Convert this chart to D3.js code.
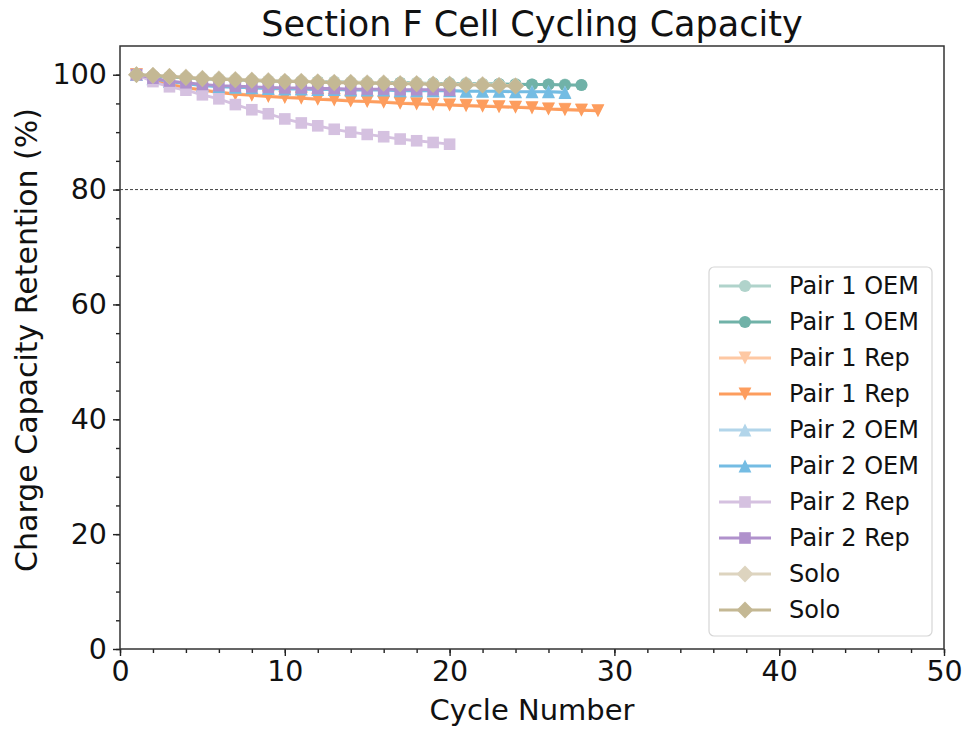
<!DOCTYPE html>
<html>
<head>
<meta charset="utf-8">
<script src="https://cdn.jsdelivr.net/npm/d3@7"></script>
<style>
  body { margin: 0; background: #fff; }
  svg { font-family: 'DejaVu Sans', sans-serif; }
</style>
</head>
<body>
<svg id="viz" width="969" height="729"></svg>
<script>
/* Data */

const xTicks = [0, 10, 20, 30, 40, 50];
const yTicks = [0, 20, 40, 60, 80, 100];
const limitLine = 80;

const pair1OemLight = [100, 99.8, 99.7, 99.5, 99.4, 99.3, 99.2, 99.1, 99.0, 98.9, 98.9, 98.8, 98.8, 98.7, 98.7, 98.6, 98.6, 98.6, 98.5, 98.5, 98.5, 98.4, 98.4, 98.4, 98.3, 98.3, 98.3, 98.2];
const pair1OemDark = [100, 99.8, 99.6, 99.5, 99.3, 99.2, 99.1, 99.0, 98.9, 98.9, 98.8, 98.8, 98.7, 98.7, 98.6, 98.6, 98.6, 98.5, 98.5, 98.5, 98.4, 98.4, 98.4, 98.3, 98.3, 98.3, 98.2, 98.2];
const pair1RepLight = [100, 99.1, 98.4, 97.8, 97.4, 97.0, 96.7, 96.5, 96.3, 96.1, 96.0, 95.8, 95.7, 95.5, 95.4, 95.3, 95.1, 95.0, 94.9, 94.8, 94.7, 94.6, 94.5, 94.4, 94.3, 94.1, 94.0, 93.9, 93.8];
const pair1RepDark = [100, 99.0, 98.3, 97.7, 97.3, 96.9, 96.6, 96.4, 96.2, 96.0, 95.9, 95.7, 95.6, 95.4, 95.3, 95.2, 95.0, 94.9, 94.8, 94.7, 94.6, 94.5, 94.4, 94.3, 94.2, 94.0, 93.9, 93.8, 93.7];
const pair2OemLight = [100, 99.4, 98.9, 98.5, 98.2, 98.0, 97.9, 97.8, 97.7, 97.6, 97.6, 97.5, 97.5, 97.4, 97.4, 97.4, 97.3, 97.3, 97.3, 97.3, 97.2, 97.2, 97.2, 97.1, 97.1, 97.1, 97.0];
const pair2OemDark = [100, 99.3, 98.8, 98.4, 98.1, 97.9, 97.8, 97.7, 97.6, 97.5, 97.5, 97.4, 97.4, 97.3, 97.3, 97.3, 97.2, 97.2, 97.2, 97.2, 97.1, 97.1, 97.1, 97.0, 97.0, 97.0, 96.9];
const pair2RepLight = [100, 98.8, 97.9, 97.3, 96.5, 95.8, 94.8, 93.9, 93.2, 92.3, 91.6, 91.1, 90.5, 90.0, 89.6, 89.2, 88.8, 88.5, 88.2, 87.9];
const pair2RepDark = [100, 99.4, 98.9, 98.6, 98.3, 98.1, 98.0, 97.9, 97.8, 97.7, 97.7, 97.6, 97.6, 97.5, 97.5, 97.5, 97.4, 97.4, 97.4, 97.3];
const soloLight = [100, 99.9, 99.7, 99.6, 99.4, 99.3, 99.2, 99.1, 99.0, 98.9, 98.9, 98.8, 98.7, 98.7, 98.6, 98.6, 98.5, 98.5, 98.4, 98.4, 98.3, 98.3, 98.2, 98.1];
const soloDark = [100, 99.9, 99.7, 99.5, 99.3, 99.2, 99.1, 99.0, 98.9, 98.8, 98.8, 98.7, 98.6, 98.6, 98.5, 98.5, 98.4, 98.4, 98.3, 98.3, 98.2, 98.2, 98.1, 98.0];

const labels = ['Pair 1 OEM', 'Pair 1 OEM', 'Pair 1 Rep', 'Pair 1 Rep', 'Pair 2 OEM', 'Pair 2 OEM', 'Pair 2 Rep', 'Pair 2 Rep', 'Solo', 'Solo'];
const colors = ['#b0d3cb', '#70b2a8', '#fec8a3', '#fd9d5e', '#b2d5ea', '#74bce3', '#d5c1e0', '#b091cc', '#ddd4bf', '#c4b894'];
const markers = ['circle', 'circle', 'down', 'down', 'up', 'up', 'square', 'square', 'diamond', 'diamond'];
const values = [pair1OemLight, pair1OemDark, pair1RepLight, pair1RepDark, pair2OemLight, pair2OemDark, pair2RepLight, pair2RepDark, soloLight, soloDark];

/* Layout */

const plotLeft = 120, plotRight = 944, plotTop = 46, plotBottom = 649;

const svg = d3.select('#viz');

const x = d3.scaleLinear().domain([0, 50]).range([plotLeft, plotRight]);
const y = d3.scaleLinear().domain([0, 105]).range([plotBottom, plotTop]);

// marker shapes in the style of matplotlib
const shapes = {
  circle: { draw(c, s) { c.moveTo(s, 0); c.arc(0, 0, s, 0, 2 * Math.PI); } },
  square: { draw(c, s) { c.rect(-s, -s, 2 * s, 2 * s); } },
  up: { draw(c, s) { c.moveTo(0, -s); c.lineTo(s, s); c.lineTo(-s, s); c.closePath(); } },
  down: { draw(c, s) { c.moveTo(0, s); c.lineTo(s, -s); c.lineTo(-s, -s); c.closePath(); } },
  diamond: { draw(c, s) { c.moveTo(0, -s); c.lineTo(s, 0); c.lineTo(0, s); c.lineTo(-s, 0); c.closePath(); } },
};
const shapeSize = { circle: 6, square: 5.8, up: 6.4, down: 6.4, diamond: 8.4 };

const symbol = (m) => d3.symbol().type(shapes[m]).size(shapeSize[m])();

/* Axes */

svg.append('g')
  .attr('transform', 'translate(0,' + plotBottom + ')')
  .call(d3.axisBottom(x).tickValues(xTicks).tickSize(7).tickPadding(5));
svg.append('g')
  .attr('transform', 'translate(0,' + plotBottom + ')')
  .call(d3.axisBottom(x).tickValues(d3.range(0, 51, 2)).tickSize(4).tickFormat(''));

svg.append('g')
  .attr('transform', 'translate(' + plotLeft + ',0)')
  .call(d3.axisLeft(y).tickValues(yTicks).tickSize(7).tickPadding(6));
svg.append('g')
  .attr('transform', 'translate(' + plotLeft + ',0)')
  .call(d3.axisLeft(y).tickValues(d3.range(0, 105, 5)).tickSize(4).tickFormat(''));

svg.selectAll('.domain').remove();
svg.selectAll('.tick line').attr('stroke', '#222').attr('stroke-width', 1.4);
svg.selectAll('.tick text').attr('font-size', 28.5).attr('fill', '#111').attr('font-family', 'DejaVu Sans');

// frame
svg.append('rect')
  .attr('x', plotLeft).attr('y', plotTop)
  .attr('width', plotRight - plotLeft).attr('height', plotBottom - plotTop)
  .attr('fill', 'none').attr('stroke', '#333').attr('stroke-width', 1.5);

/* Lines */

svg.append('line')
  .attr('x1', plotLeft).attr('x2', plotRight)
  .attr('y1', y(limitLine)).attr('y2', y(limitLine))
  .attr('stroke', '#444').attr('stroke-width', 1)
  .attr('stroke-dasharray', '3,2');

const line = d3.line().x((d, i) => x(i + 1)).y((d) => y(d));

values.forEach((vals, k) => {
  const g = svg.append('g');
  g.append('path')
    .attr('d', line(vals))
    .attr('fill', 'none')
    .attr('stroke', colors[k])
    .attr('stroke-width', 2.8);
  g.selectAll('path.mk')
    .data(vals)
    .join('path')
    .attr('class', 'mk')
    .attr('transform', (d, i) => 'translate(' + x(i + 1) + ',' + y(d) + ')')
    .attr('d', symbol(markers[k]))
    .attr('fill', colors[k]);
});

/* Title and labels */

svg.append('text')
  .attr('x', (plotLeft + plotRight) / 2).attr('y', 36)
  .attr('text-anchor', 'middle')
  .attr('font-size', 35).attr('fill', '#111')
  .text('Section F Cell Cycling Capacity');

svg.append('text')
  .attr('x', (plotLeft + plotRight) / 2).attr('y', 720)
  .attr('text-anchor', 'middle')
  .attr('font-size', 29).attr('fill', '#111')
  .text('Cycle Number');

svg.append('text')
  .attr('transform', 'translate(37,340) rotate(-90)')
  .attr('text-anchor', 'middle')
  .attr('font-size', 30).attr('fill', '#111')
  .text('Charge Capacity Retention (%)');

/* Legend */

const legend = svg.append('g').attr('transform', 'translate(709,267)');
legend.append('rect')
  .attr('width', 223).attr('height', 369)
  .attr('rx', 5)
  .attr('fill', 'rgba(255,255,255,0.8)')
  .attr('stroke', '#d6d6d6').attr('stroke-width', 1.2);

const items = legend.selectAll('g.item')
  .data(labels)
  .join('g')
  .attr('class', 'item')
  .attr('transform', (d, i) => 'translate(0,' + (19 + i * 36) + ')');

items.append('line')
  .attr('x1', 10).attr('x2', 62)
  .attr('stroke', (d, i) => colors[i])
  .attr('stroke-width', 2.8);
items.append('path')
  .attr('transform', 'translate(36,0)')
  .attr('d', (d, i) => symbol(markers[i]))
  .attr('fill', (d, i) => colors[i]);
items.append('text')
  .attr('x', 80).attr('dy', '0.35em')
  .attr('font-size', 24).attr('fill', '#111')
  .text((d) => d);
</script>
</body>
</html>
